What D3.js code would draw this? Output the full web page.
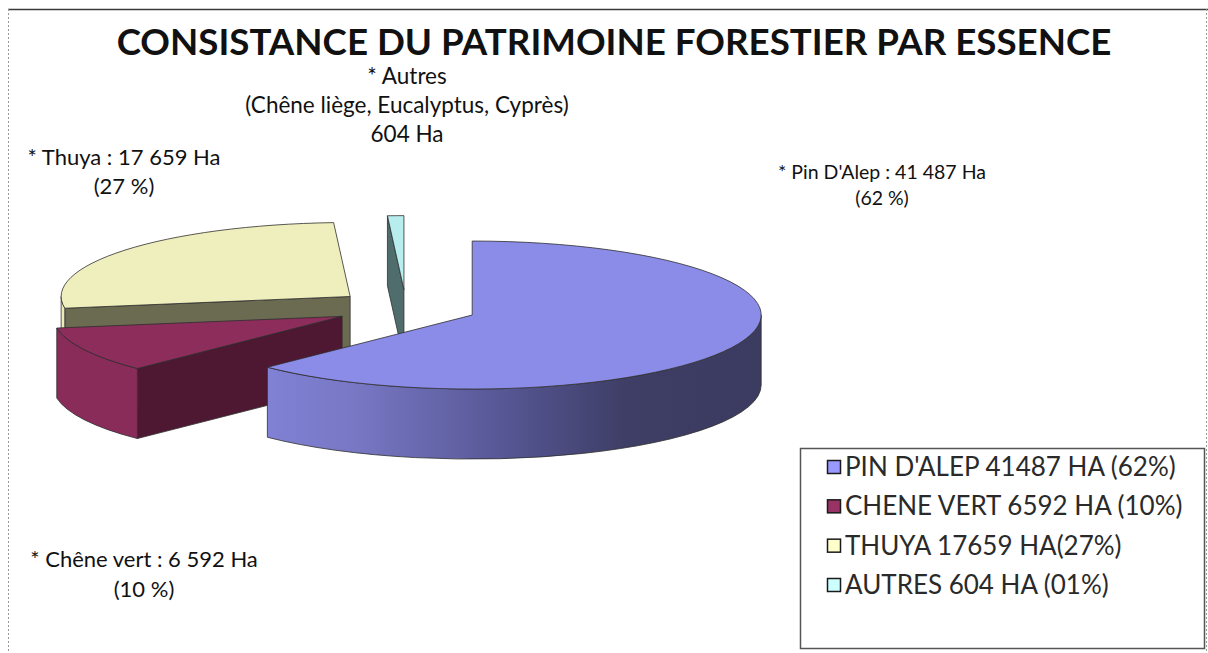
<!DOCTYPE html>
<html>
<head>
<meta charset="utf-8">
<script src="https://cdn.jsdelivr.net/npm/d3@7/dist/d3.min.js"></script>
<style>
body { margin:0; background:#fff; }
svg { display:block; font-family: Lato, "Open Sans", sans-serif; }
</style>
</head>
<body>
<svg id="chart" width="1208" height="653"></svg>
<script>
// values
var categories = ["Pin D'Alep", "Chêne vert", "Thuya", "Autres"];
var surfaces = [41487, 6592, 17659, 604];
var legendLabels = ["PIN D'ALEP 41487 HA (62%)", "CHENE VERT 6592 HA (10%)", "THUYA 17659 HA(27%)", "AUTRES 604 HA (01%)"];
var sliceLabels = [
  ["* Pin D'Alep : 41 487 Ha", "(62 %)"],
  ["* Chêne vert : 6 592 Ha", "(10 %)"],
  ["* Thuya :  17 659 Ha", "(27 %)"],
  ["* Autres", "(Chêne liège, Eucalyptus, Cyprès)", "604 Ha"]
];
var title = "CONSISTANCE DU PATRIMOINE FORESTIER PAR ESSENCE";

// styles
var topColors  = ["#8b8be8", "#8c2d5c", "#efefbe", "#b7eded"];
var sideColors = ["url(#pinSide)", "#8a2c5a", "#ececbb", "#b7eded"];
var wallColors = ["#3c3c62", "#4f1832", "#6b6b52", "#4f6d6d"];
var swatchColors = ["#9999ff", "#993366", "#ffffcc", "#ccffff"];

// label placement (x centre, baseline of first line, line step, font size)
var labelPos = [
  {x: 882, y: 179, step: 26, size: 19.5},
  {x: 144, y: 567, step: 30, size: 22},
  {x: 124, y: 165, step: 29, size: 22},
  {x: 407, y: 84,  step: 29, size: 22.5}
];

var svg = d3.select("#chart");

// frame
svg.append("line").attr("x1", 8).attr("x2", 1208).attr("y1", 9.5).attr("y2", 9.5)
   .attr("stroke", "#3a3a3a").attr("stroke-width", 1.6);
svg.append("line").attr("x1", 8.5).attr("x2", 8.5).attr("y1", 9).attr("y2", 653)
   .attr("stroke", "#999").attr("stroke-dasharray", "2,2");
svg.append("line").attr("x1", 1206.5).attr("x2", 1206.5).attr("y1", 9).attr("y2", 653)
   .attr("stroke", "#999").attr("stroke-dasharray", "2,2");

// title
var t = svg.append("text").attr("x", 614).attr("y", 55).attr("text-anchor", "middle")
  .attr("font-weight", "bold").attr("font-size", 36).attr("fill", "#111").text(title);
var tw = t.node().getComputedTextLength();
t.attr("font-size", 36 * 995 / tw);

// 3D pie geometry
var cx = 406, cy = 308, rx = 289, ry = 74, depth = 70, explode = 0.248;

var pie = d3.pie().sort(null).value(function(d) { return d; });
var arcs = pie(surfaces);

function pt(c, a, dy) { return [c[0] + rx * Math.sin(a), c[1] - ry * Math.cos(a) + (dy || 0)]; }

arcs.forEach(function(d, i) {
  var mid = (d.startAngle + d.endAngle) / 2;
  d.i = i;
  d.c = [cx + explode * rx * Math.sin(mid), cy - explode * ry * Math.cos(mid)];
  var ys = [d.c[1]];
  for (var k = 0; k <= 40; k++) ys.push(pt(d.c, d.startAngle + (d.endAngle - d.startAngle) * k / 40)[1]);
  d.front = d3.max(ys);
});

var defs = svg.append("defs");
var g0 = defs.append("linearGradient").attr("id", "pinSide").attr("gradientUnits", "userSpaceOnUse")
  .attr("x1", cx - rx + 60).attr("x2", cx + rx + 80).attr("y1", 0).attr("y2", 0);
[["0", "#8b8be6"], ["0.3", "#7777c4"], ["0.55", "#565694"], ["0.75", "#3e3e66"], ["1", "#3b3b60"]]
  .forEach(function(s) { g0.append("stop").attr("offset", s[0]).attr("stop-color", s[1]); });

function topPath(d) {
  var a = pt(d.c, d.startAngle), b = pt(d.c, d.endAngle);
  var large = (d.endAngle - d.startAngle) > Math.PI ? 1 : 0;
  return "M" + d.c + "L" + a + "A" + rx + "," + ry + " 0 " + large + " 1 " + b + "Z";
}
function sidePath(d) {
  var s = Math.max(d.startAngle, Math.PI / 2), e = Math.min(d.endAngle, 3 * Math.PI / 2);
  if (e <= s) return null;
  var a = pt(d.c, s), b = pt(d.c, e), bd = pt(d.c, e, depth), ad = pt(d.c, s, depth);
  var large = (e - s) > Math.PI ? 1 : 0;
  return "M" + a + "A" + rx + "," + ry + " 0 " + large + " 1 " + b + "L" + bd +
         "A" + rx + "," + ry + " 0 " + large + " 0 " + ad + "Z";
}
function wallPath(d, a) {
  var p = pt(d.c, a), pd = pt(d.c, a, depth);
  return "M" + d.c + "L" + p + "L" + pd + "L" + [d.c[0], d.c[1] + depth] + "Z";
}

var order = arcs.slice().sort(function(a, b) { return a.front - b.front; });
var pieG = svg.append("g").attr("stroke", "#2e2e2e").attr("stroke-width", 0.8).attr("stroke-linejoin", "round");

order.forEach(function(d) {
  var g = pieG.append("g");
  if (Math.sin(d.startAngle) < -1e-6)
    g.append("path").attr("d", wallPath(d, d.startAngle)).attr("fill", wallColors[d.i]);
  if (Math.sin(d.endAngle) > 1e-6)
    g.append("path").attr("d", wallPath(d, d.endAngle)).attr("fill", wallColors[d.i]);
  var sp = sidePath(d);
  if (sp) g.append("path").attr("d", sp).attr("fill", sideColors[d.i]);
  g.append("path").attr("d", topPath(d)).attr("fill", topColors[d.i]);
});

// slice labels
sliceLabels.forEach(function(lines, i) {
  var p = labelPos[i];
  var txt = svg.append("text").attr("text-anchor", "middle").attr("font-size", p.size).attr("fill", "#111");
  lines.forEach(function(l, j) {
    txt.append("tspan").attr("x", p.x).attr("y", p.y + j * p.step).text(l);
  });
});

// legend
var lg = svg.append("g");
lg.append("rect").attr("x", 800.5).attr("y", 448.5).attr("width", 404).attr("height", 200)
  .attr("fill", "#fff").attr("stroke", "#555").attr("stroke-width", 1.5);
var ly = d3.scalePoint().domain(categories).range([467, 585]);
categories.forEach(function(c, i) {
  lg.append("rect").attr("x", 827.5).attr("y", ly(c) - 6.5).attr("width", 13).attr("height", 13)
    .attr("fill", swatchColors[i]).attr("stroke", "#1a1a1a").attr("stroke-width", 1.5);
  lg.append("text").attr("x", 845).attr("y", ly(c) + 9).attr("font-size", 26).attr("fill", "#2a2a2a")
    .text(legendLabels[i]);
});
</script>
</body>
</html>
